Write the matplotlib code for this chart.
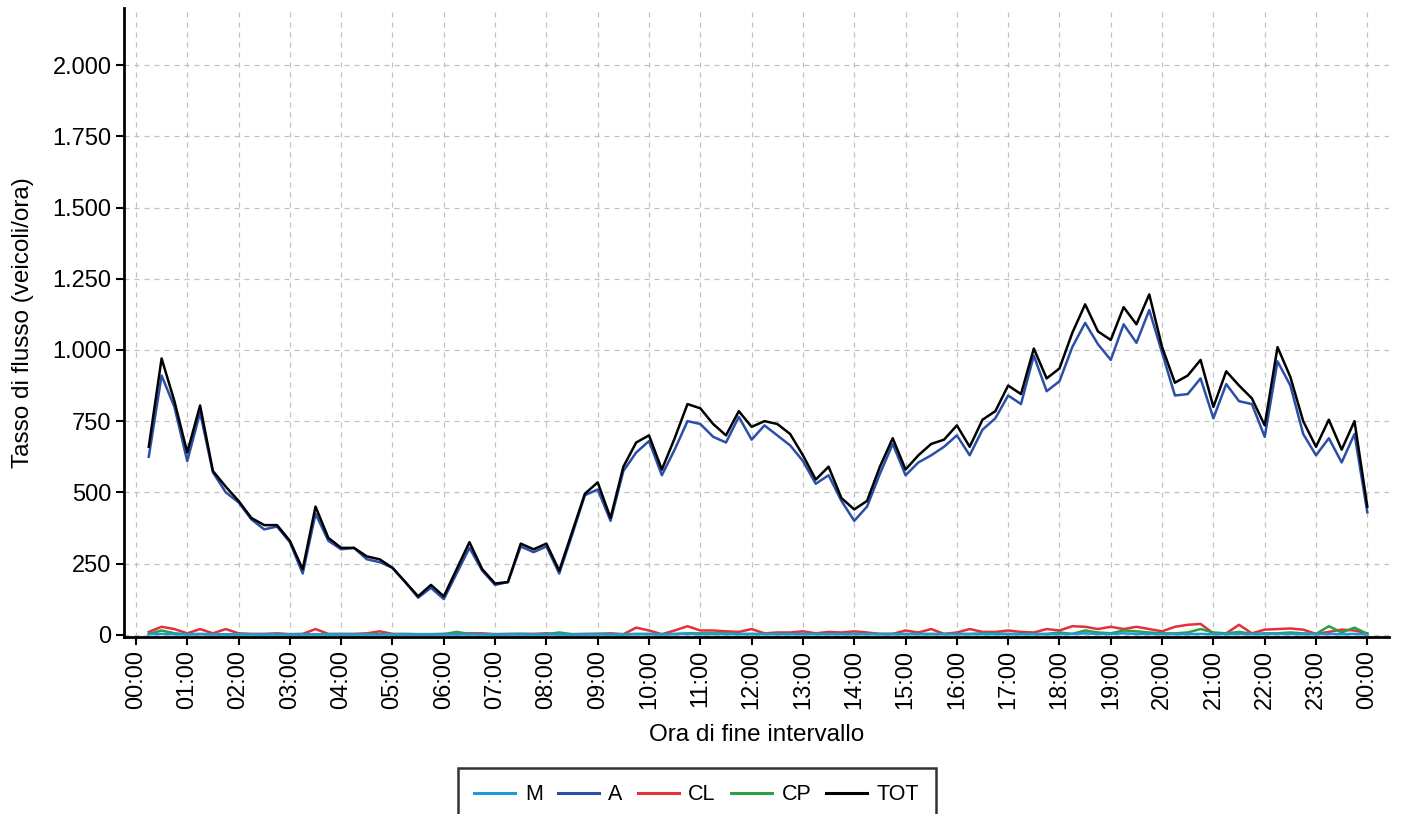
import numpy as np
import matplotlib.pyplot as plt
from matplotlib.ticker import FuncFormatter, MultipleLocator

plt.rcParams["font.family"] = ["Liberation Sans", "DejaVu Sans"]

# 15-minute intervals, end times 00:15 .. 24:00 (hours)
hours = [(i + 1) * 0.25 for i in range(96)]

tot = [660, 970, 820, 640, 805, 575, 520, 470, 410, 385, 385, 330,
       230, 450, 340, 305, 305, 275, 265, 235, 185, 135, 175, 135,
       230, 325, 230, 180, 185, 320, 300, 320, 225, 360, 495, 535,
       410, 590, 675, 700, 580, 690, 810, 795, 740, 700, 785, 730,
       750, 740, 705, 630, 545, 590, 480, 440, 470, 590, 690, 580,
       630, 670, 685, 735, 660, 755, 785, 875, 845, 1005, 900, 935,
       1060, 1160, 1065, 1035, 1150, 1090, 1195, 1010, 885, 910, 965, 800,
       925, 875, 830, 735, 1010, 905, 750, 660, 755, 650, 750, 450]

auto = [625, 910, 800, 610, 780, 570, 500, 465, 405, 370, 380, 325,
        215, 425, 330, 300, 305, 265, 255, 235, 185, 130, 165, 125,
        215, 305, 225, 175, 185, 310, 290, 310, 215, 350, 490, 510,
        400, 575, 640, 680, 560, 650, 750, 740, 695, 675, 765, 685,
        735, 700, 665, 610, 530, 560, 470, 400, 450, 565, 670, 560,
        605, 630, 660, 700, 630, 720, 760, 840, 810, 980, 855, 890,
        1010, 1095, 1020, 965, 1090, 1025, 1140, 990, 840, 845, 900, 760,
        880, 820, 810, 695, 960, 875, 705, 630, 690, 605, 705, 430]

cl = [10, 28, 20, 5, 20, 5, 20, 5, 3, 3, 5, 2,
      3, 20, 3, 3, 3, 5, 12, 3, 2, 2, 2, 3,
      2, 5, 5, 2, 3, 3, 3, 5, 2, 2, 3, 3,
      5, 2, 25, 15, 2, 15, 30, 15, 15, 12, 10, 20,
      5, 8, 8, 12, 5, 10, 8, 12, 8, 3, 3, 15,
      8, 20, 3, 8, 20, 10, 10, 15, 10, 8, 20, 15,
      30, 28, 20, 28, 20, 28, 20, 12, 28, 35, 38, 5,
      5, 35, 5, 18, 20, 22, 18, 3, 10, 18, 15, 5]

cp = [3, 15, 5, 2, 3, 2, 2, 2, 2, 2, 2, 2,
      2, 2, 2, 2, 2, 2, 2, 2, 3, 2, 2, 2,
      10, 3, 2, 2, 2, 3, 2, 2, 8, 2, 2, 3,
      2, 2, 3, 3, 2, 3, 5, 5, 5, 5, 3, 3,
      3, 3, 3, 3, 3, 3, 3, 3, 3, 3, 3, 3,
      3, 3, 3, 3, 3, 5, 5, 3, 3, 3, 3, 8,
      3, 15, 8, 5, 15, 12, 8, 5, 5, 8, 20, 8,
      5, 10, 3, 5, 5, 8, 5, 3, 30, 8, 25, 3]

moto = [2, 3, 2, 1, 2, 1, 1, 1, 1, 1, 1, 1,
        1, 1, 1, 1, 1, 1, 1, 1, 1, 1, 1, 1,
        1, 1, 1, 1, 1, 1, 1, 1, 1, 1, 1, 1,
        1, 1, 2, 2, 1, 2, 3, 2, 2, 2, 2, 2,
        2, 2, 2, 2, 2, 2, 2, 2, 2, 2, 2, 2,
        2, 2, 2, 2, 2, 2, 2, 2, 2, 2, 2, 2,
        3, 5, 3, 3, 5, 3, 3, 2, 2, 2, 3, 2,
        2, 3, 2, 2, 3, 3, 2, 2, 3, 2, 3, 1]

hour_labels = ["%02d:00" % (h % 24) for h in range(25)]


def main():
    fig = plt.figure(figsize=(14.02, 8.14), dpi=100)
    ax = fig.add_axes([0.0884, 0.2174, 0.9026, 0.7726])

    lw = 1.8
    ax.plot(hours, moto, color="#1f9ad6", lw=lw, label="M", zorder=3)
    ax.plot(hours, auto, color="#2b4fa8", lw=lw, label="A", zorder=4)
    ax.plot(hours, cl, color="#e3303a", lw=lw, label="CL", zorder=2)
    ax.plot(hours, cp, color="#2e9e45", lw=lw, label="CP", zorder=2)
    ax.plot(hours, tot, color="black", lw=lw, label="TOT", zorder=5)

    ax.set_xlim(-0.234, 24.43)
    ax.set_ylim(-8, 2200)
    ax.set_xticks(range(25))
    ax.set_xticklabels(hour_labels, rotation=90, fontsize=17)
    ax.yaxis.set_major_locator(MultipleLocator(250))
    ax.yaxis.set_major_formatter(
        FuncFormatter(lambda v, p: "{:,.0f}".format(v).replace(",", ".")))
    ax.tick_params(axis="y", labelsize=17)
    ax.tick_params(direction="out", length=6, width=1.5, pad=3)

    ax.grid(True, linestyle=(0, (4, 4)), color="#c0c0c0", lw=0.9)
    ax.set_axisbelow(True)
    for s in ["top", "right"]:
        ax.spines[s].set_visible(False)
    for s in ["left", "bottom"]:
        ax.spines[s].set_linewidth(2)

    ax.set_xlabel("Ora di fine intervallo", fontsize=17.5, labelpad=11)
    ax.set_ylabel("Tasso di flusso (veicoli/ora)", fontsize=17.5, labelpad=13)

    leg = fig.legend(loc="upper center", bbox_to_anchor=(0.497, 0.0565),
                     ncol=5, fontsize=15.5, frameon=True, fancybox=False,
                     edgecolor="black", handlelength=1.9, handletextpad=0.45,
                     columnspacing=0.7, borderpad=0.75, borderaxespad=0)
    leg.get_frame().set_linewidth(1.8)
    for line in leg.get_lines():
        line.set_linewidth(2.2)

    fig.savefig("out.png", dpi=100)


if __name__ == "__main__":
    main()
